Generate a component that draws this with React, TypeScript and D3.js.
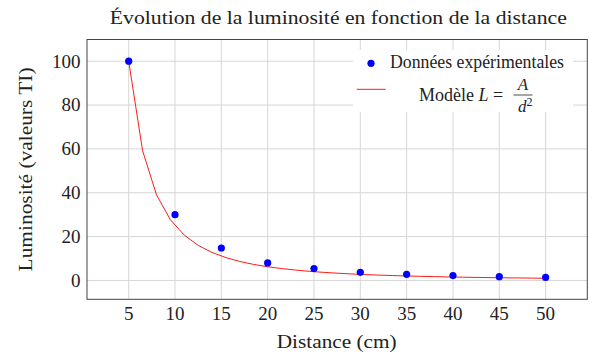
import React from "react";
import * as d3 from "d3";

const distances = [5, 10, 15, 20, 25, 30, 35, 40, 45, 50];
const luminosities = [100, 30, 14.8, 8, 5.4, 3.7, 2.8, 2.2, 1.7, 1.4];
const modelDistances = [5, 6.5, 8, 9.5, 11, 12.5, 14, 15.5, 17, 18.5, 20, 21.5, 23, 24.5, 26, 27.5, 29, 30.5, 32, 33.5, 35, 36.5, 38, 39.5, 41, 42.5, 44, 45.5, 47, 48.5, 50];
const modelValues = [100, 59.17, 39.06, 27.7, 20.66, 16, 12.76, 10.41, 8.65, 7.3, 6.25, 5.41, 4.73, 4.16, 3.7, 3.31, 2.97, 2.69, 2.44, 2.23, 2.04, 1.88, 1.73, 1.6, 1.49, 1.38, 1.29, 1.21, 1.13, 1.06, 1.0];
const xTicks = [5, 10, 15, 20, 25, 30, 35, 40, 45, 50];
const yTicks = [0, 20, 40, 60, 80, 100];

const title = "Évolution de la luminosité en fonction de la distance";
const xLabel = "Distance (cm)";
const yLabel = "Luminosité (valeurs TI)";
const legendData = "Données expérimentales";

const FONT = "Liberation Serif, DejaVu Serif, serif";

export default function App() {
  const L = 87, R = 587.3, T = 39.5, B = 299.3;
  const x = d3.scaleLinear().domain([0.5, 54.5]).range([L, R]);
  const y = d3.scaleLinear().domain([-8.6, 109.9]).range([B, T]);
  const line = d3
    .line<number>()
    .x((_, i) => x(modelDistances[i]))
    .y((d) => y(d));
  const modelPath = line(modelValues) || "";
  const ts = { fontFamily: FONT };

  return (
    <svg width={600} height={358} style={{ position: "absolute", left: 0, top: 0, fontFamily: FONT }}>
      <rect x={0} y={0} width={600} height={358} fill="#fff" />
      {xTicks.map((t) => (
        <line key={"gx" + t} x1={x(t)} x2={x(t)} y1={T} y2={B} stroke="#d6d6d6" strokeWidth={1} />
      ))}
      {yTicks.map((t) => (
        <line key={"gy" + t} x1={L} x2={R} y1={y(t)} y2={y(t)} stroke="#d6d6d6" strokeWidth={1} />
      ))}
      <path d={modelPath} fill="none" stroke="#ff0000" strokeWidth={0.9} />
      {distances.map((d, i) => (
        <circle key={"p" + d} cx={x(d)} cy={y(luminosities[i])} r={3.6} fill="#0000ff" />
      ))}
      <rect x={353} y={50} width={220} height={62} fill="#fff" />
      <circle cx={371} cy={63.3} r={3.6} fill="#0000ff" />
      <text style={ts} x={390} y={67.5} fontSize={18} textLength={174} lengthAdjust="spacingAndGlyphs" fill="#222">
        {legendData}
      </text>
      <line x1={356.7} x2={385.7} y1={89.3} y2={89.3} stroke="#ff0000" strokeWidth={0.9} />
      <text style={ts} x={419} y={100.5} fontSize={18} fill="#222">
        <tspan>Modèle </tspan>
        <tspan fontStyle="italic">L</tspan>
        <tspan> = </tspan>
      </text>
      <text style={ts} x={523} y={90} fontSize={17} fontStyle="italic" textAnchor="middle" fill="#222">A</text>
      <line x1={513.5} x2={532.5} y1={95} y2={95} stroke="#222" strokeWidth={0.8} />
      <text style={ts} x={518} y={111.5} fontSize={17} fontStyle="italic" fill="#222">
        d<tspan fontSize={12} fontStyle="normal" dy={-6}>2</tspan>
      </text>
      <rect x={L} y={T} width={R - L} height={B - T} fill="none" stroke="#444" strokeWidth={1} />
      {xTicks.map((t) => (
        <text style={ts} key={"tx" + t} x={x(t)} y={320} fontSize={19} textAnchor="middle" fill="#222">
          {t}
        </text>
      ))}
      {yTicks.map((t) => (
        <text style={ts} key={"ty" + t} x={80.5} y={y(t) + 6.4} fontSize={19} textAnchor="end" fill="#222">
          {t}
        </text>
      ))}
      <text style={ts} x={338.3} y={23.5} fontSize={19} textAnchor="middle" textLength={457} lengthAdjust="spacingAndGlyphs" fill="#222">
        {title}
      </text>
      <text style={ts} x={336.7} y={348} fontSize={19} textAnchor="middle" textLength={120} lengthAdjust="spacingAndGlyphs" fill="#222">
        {xLabel}
      </text>
      <text
        style={ts}
        transform={`translate(32,${(T + B) / 2}) rotate(-90)`}
        fontSize={19}
        textAnchor="middle"
        textLength={204}
        lengthAdjust="spacingAndGlyphs"
        fill="#222"
      >
        {yLabel}
      </text>
    </svg>
  );
}
